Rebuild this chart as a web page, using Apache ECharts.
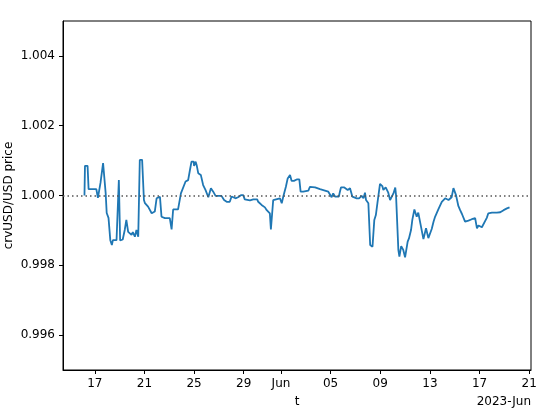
<!DOCTYPE html>
<html>
<head>
<meta charset="utf-8">
<script src="https://cdn.jsdelivr.net/npm/echarts@6/dist/echarts.min.js"></script>
<style>html,body{margin:0;padding:0;background:#fff}#c{width:551px;height:413px}</style>
</head>
<body>
<div id="c"></div>
<script>
var times = [
"2023-05-16T04:00","2023-05-16T05:00","2023-05-16T10:00","2023-05-16T12:00",
"2023-05-17T03:00","2023-05-17T06:00","2023-05-17T09:00","2023-05-17T11:00","2023-05-17T16:00","2023-05-17T18:00","2023-05-17T21:00","2023-05-17T23:00",
"2023-05-18T02:30","2023-05-18T06:00","2023-05-18T09:00","2023-05-18T11:00","2023-05-18T18:00","2023-05-18T22:30",
"2023-05-19T01:00","2023-05-19T06:00","2023-05-19T10:00","2023-05-19T13:00","2023-05-19T16:30","2023-05-19T23:00",
"2023-05-20T01:30","2023-05-20T05:30","2023-05-20T08:30","2023-05-20T12:00","2023-05-20T15:00","2023-05-20T19:30","2023-05-20T23:00",
"2023-05-21T01:00","2023-05-21T07:00","2023-05-21T14:00","2023-05-21T20:00","2023-05-21T23:30",
"2023-05-22T06:00","2023-05-22T09:00","2023-05-22T15:30",
"2023-05-23T01:00","2023-05-23T04:30","2023-05-23T07:30","2023-05-23T17:00","2023-05-23T22:30",
"2023-05-24T02:00","2023-05-24T07:30","2023-05-24T12:30","2023-05-24T16:00","2023-05-24T19:00","2023-05-24T23:00",
"2023-05-25T00:00","2023-05-25T03:00","2023-05-25T05:00","2023-05-25T08:00","2023-05-25T13:00","2023-05-25T17:30","2023-05-25T22:00",
"2023-05-26T03:30","2023-05-26T08:30","2023-05-26T13:00","2023-05-26T17:30",
"2023-05-27T05:00","2023-05-27T10:00","2023-05-27T15:00","2023-05-27T21:00",
"2023-05-28T00:30","2023-05-28T08:00","2023-05-28T13:00","2023-05-28T18:30","2023-05-28T23:00",
"2023-05-29T02:00","2023-05-29T12:00","2023-05-29T18:30",
"2023-05-30T02:00","2023-05-30T04:00","2023-05-30T10:30","2023-05-30T17:00","2023-05-30T20:30","2023-05-30T23:30",
"2023-05-31T02:30","2023-05-31T04:30","2023-05-31T09:00","2023-05-31T12:30","2023-05-31T22:00",
"2023-06-01T01:30","2023-06-01T04:30","2023-06-01T09:30","2023-06-01T13:00","2023-06-01T17:30","2023-06-01T20:30",
"2023-06-02T01:00","2023-06-02T03:00","2023-06-02T06:30","2023-06-02T11:30","2023-06-02T14:00","2023-06-02T19:00",
"2023-06-03T05:00","2023-06-03T08:00","2023-06-03T18:00",
"2023-06-04T03:30","2023-06-04T13:00","2023-06-04T19:30","2023-06-04T23:00",
"2023-06-05T02:00","2023-06-05T05:00","2023-06-05T08:30","2023-06-05T16:00","2023-06-05T18:00","2023-06-05T20:00",
"2023-06-06T02:30","2023-06-06T05:00","2023-06-06T09:00","2023-06-06T13:30","2023-06-06T18:00",
"2023-06-07T02:30","2023-06-07T07:00","2023-06-07T09:00","2023-06-07T12:00","2023-06-07T15:30","2023-06-07T18:30","2023-06-07T20:30",
"2023-06-08T01:00","2023-06-08T04:30","2023-06-08T09:00","2023-06-08T12:30","2023-06-08T15:30","2023-06-08T18:30","2023-06-08T20:30","2023-06-08T23:30",
"2023-06-09T04:00","2023-06-09T06:00","2023-06-09T10:30","2023-06-09T15:30","2023-06-09T19:00","2023-06-09T22:30",
"2023-06-10T01:30","2023-06-10T05:00","2023-06-10T06:30","2023-06-10T11:00","2023-06-10T13:00","2023-06-10T16:30","2023-06-10T20:30",
"2023-06-11T00:00","2023-06-11T05:00","2023-06-11T07:30","2023-06-11T11:30","2023-06-11T14:00","2023-06-11T18:00","2023-06-11T22:30",
"2023-06-12T01:30","2023-06-12T05:00","2023-06-12T11:30","2023-06-12T16:30","2023-06-12T21:00",
"2023-06-13T03:30","2023-06-13T07:00","2023-06-13T10:00","2023-06-13T16:30","2023-06-13T23:00",
"2023-06-14T05:30","2023-06-14T12:00","2023-06-14T15:00","2023-06-14T18:00","2023-06-14T21:30",
"2023-06-15T02:30","2023-06-15T07:00","2023-06-15T10:30","2023-06-15T14:00","2023-06-15T20:00",
"2023-06-16T02:30","2023-06-16T09:00","2023-06-16T15:30","2023-06-16T19:00","2023-06-16T22:00",
"2023-06-17T01:00","2023-06-17T04:30","2023-06-17T07:30","2023-06-17T14:00","2023-06-17T17:00",
"2023-06-18T00:00","2023-06-18T09:30","2023-06-18T16:00","2023-06-18T19:00","2023-06-18T22:30",
"2023-06-19T05:00","2023-06-19T10:00"
];
var prices = [
1.0000, 1.00085, 1.00085, 1.00018,
1.00018, 0.99993, 0.99993, 1.00036, 1.00093, 1.00097, 1.00007, 0.9995,
0.99936, 0.99872, 0.99858, 0.99872, 0.99872, 1.00044,
0.99871, 0.99874, 0.99902, 0.9993, 0.99896, 0.99887,
0.99895, 0.99882, 0.99901, 0.99882, 1.00102, 1.00102, 0.99987,
0.99978, 0.99968, 0.99949, 0.99954, 0.99992,
0.99996, 0.99939, 0.99935,
0.99935, 0.99903, 0.9996, 0.9996, 1.00006,
1.0001, 1.0004, 1.00044, 1.00073, 1.00097, 1.00097,
1.00085, 1.00097, 1.00087, 1.00064, 1.00059, 1.0003, 1.00016,
0.99995, 1.00021, 1.00011, 0.99999,
0.99999, 0.99987, 0.99982, 0.99982,
0.99997, 0.99992, 0.99995, 1.00001, 1.00001,
0.99989, 0.99986, 0.99989,
0.99989, 0.99982, 0.99973, 0.99966, 0.99958, 0.99954,
0.99949, 0.99903, 0.99987, 0.9999, 0.99992,
0.99978, 0.99997, 1.00025, 1.00049, 1.00059, 1.00042,
1.00042, 1.00037, 1.00046, 1.00046, 1.00011, 1.00011,
1.00014, 1.00025, 1.00023,
1.00018, 1.00014, 1.00011, 1.00006,
0.99995, 1.00006, 0.99997, 0.99997, 1.00011, 1.00023,
1.00023, 1.00018, 1.00016, 1.00021, 0.99997,
0.99992, 0.99992, 0.99987, 0.99999, 0.99992, 1.00008, 0.99987,
0.99978, 0.99858, 0.99853, 0.9993, 0.99944, 0.99978, 0.99982, 1.00033,
1.00027, 1.00016, 1.00023, 1.00008, 0.99987, 0.99989,
1.00006, 1.00023, 1.00001, 0.99844, 0.99825, 0.99855, 0.99844,
0.99823, 0.99868, 0.99877, 0.99901, 0.9993, 0.9996, 0.99939,
0.99951, 0.9995, 0.99875, 0.99906, 0.99878,
0.99904, 0.99925, 0.99939, 0.99961, 0.99982,
0.99992, 0.99987, 0.99982, 0.99995, 1.00021,
1.00001, 0.9997, 0.99958, 0.99947, 0.99925,
0.99928, 0.99932, 0.99935, 0.99906, 0.99914,
0.99915, 0.99909, 0.99913, 0.99936, 0.99949,
0.99951, 0.99951, 0.99952, 0.99947, 0.99958,
0.99963, 0.99966
];
var xTickDates = ["2023-05-17","2023-05-21","2023-05-25","2023-05-29","2023-06-01","2023-06-05","2023-06-09","2023-06-13","2023-06-17","2023-06-21"];
var xTickLabels = ["17","21","25","29","Jun","05","09","13","17","21"];
var yTicks = [0.996, 0.998, 1.000, 1.002, 1.004];
var xRange = ["2023-05-14T10:30","2023-06-21T03:30"];
var yRange = [0.995, 1.005];
var refLevel = 1.0;
var offsetLabel = "2023-Jun";

function ts(s){ return Date.parse(s.length === 10 ? s + "T00:00:00Z" : s + ":00Z"); }
var tickTs = xTickDates.map(ts);
var data = times.map(function(t, i){ return [ts(t), prices[i]]; });
var FONT = "DejaVu Sans";

var chart = echarts.init(document.getElementById('c'), null, {renderer: 'canvas'});
chart.setOption({
  animation: false,
  grid: {left: 63, right: 20, top: 21, bottom: 43, outerBoundsMode: 'none', containLabel: false,
    show: true, borderColor: '#000', borderWidth: 1, backgroundColor: 'transparent'},
  xAxis: {
    type: 'value', min: ts(xRange[0]), max: ts(xRange[1]),
    axisLine: {show: true, lineStyle: {color: '#000', width: 1}},
    axisTick: {show: true, customValues: tickTs, length: 4, lineStyle: {color: '#000', width: 1}},
    axisLabel: {customValues: tickTs, margin: 8, fontSize: 12, color: '#000', fontFamily: FONT,
      formatter: function(v){ var i = tickTs.indexOf(v); return i >= 0 ? xTickLabels[i] : ''; }},
    splitLine: {show: false},
    name: 't', nameLocation: 'middle', nameGap: 26, nameMoveOverlap: false,
    nameTextStyle: {fontSize: 12, color: '#000', fontFamily: FONT}
  },
  yAxis: {
    type: 'value', min: yRange[0], max: yRange[1],
    axisLine: {show: true, lineStyle: {color: '#000', width: 1}},
    axisTick: {show: true, customValues: yTicks, length: 4, lineStyle: {color: '#000', width: 1}},
    axisLabel: {customValues: yTicks, margin: 8, fontSize: 12, color: '#000', fontFamily: FONT,
      formatter: function(v){ return v.toFixed(3); }},
    splitLine: {show: false},
    name: 'crvUSD/USD price', nameLocation: 'middle', nameRotate: 90, nameGap: 48, nameMoveOverlap: false,
    nameTextStyle: {fontSize: 12, color: '#000', fontFamily: FONT}
  },
  graphic: [{
    type: 'text', right: 20, top: 396,
    style: {text: offsetLabel, fontSize: 12, fill: '#000', fontFamily: FONT}
  }],
  series: [{
    type: 'line', data: data, showSymbol: false, symbol: 'none',
    lineStyle: {color: '#1f77b4', width: 1.8},
    markLine: {
      silent: true, symbol: ['none', 'none'], label: {show: false},
      lineStyle: {type: [1.5, 3], color: '#555', width: 1.5},
      data: [{yAxis: refLevel}]
    }
  }]
});
</script>
</body>
</html>
